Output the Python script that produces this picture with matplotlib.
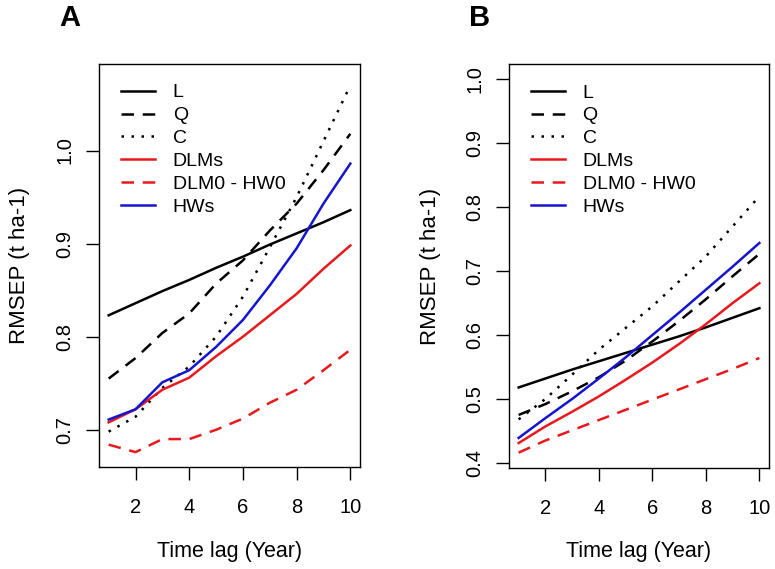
import matplotlib
matplotlib.use("Agg")
import matplotlib.pyplot as plt
import numpy as np

plt.rcParams["font.family"] = ["Liberation Sans", "DejaVu Sans"]

# time lag (years)
lags = np.arange(1, 11)

# panel A: RMSEP (t ha-1)
a_L = [0.823, 0.836, 0.849, 0.861, 0.874, 0.886, 0.899, 0.911, 0.923, 0.936]
a_Q = [0.755, 0.777, 0.804, 0.825, 0.857, 0.882, 0.914, 0.943, 0.979, 1.018]
a_C = [0.698, 0.714, 0.745, 0.768, 0.800, 0.843, 0.896, 0.950, 1.010, 1.070]
a_DLM = [0.708, 0.722, 0.743, 0.756, 0.779, 0.800, 0.823, 0.846, 0.873, 0.898]
a_DLM0 = [0.684, 0.676, 0.690, 0.690, 0.700, 0.712, 0.729, 0.743, 0.764, 0.786]
a_HW = [0.711, 0.722, 0.751, 0.764, 0.789, 0.818, 0.855, 0.895, 0.943, 0.986]

# panel B: RMSEP (t ha-1)
b_L = [0.518, 0.532, 0.546, 0.559, 0.572, 0.585, 0.598, 0.612, 0.627, 0.642]
b_Q = [0.475, 0.492, 0.512, 0.534, 0.560, 0.590, 0.622, 0.656, 0.692, 0.727]
b_C = [0.468, 0.500, 0.538, 0.577, 0.611, 0.645, 0.684, 0.723, 0.770, 0.817]
b_DLM = [0.431, 0.457, 0.480, 0.504, 0.530, 0.557, 0.586, 0.617, 0.650, 0.681]
b_DLM0 = [0.416, 0.435, 0.451, 0.467, 0.483, 0.499, 0.515, 0.531, 0.547, 0.564]
b_HW = [0.439, 0.470, 0.500, 0.532, 0.565, 0.600, 0.635, 0.671, 0.707, 0.744]

labels = ["L", "Q", "C", "DLMs", "DLM0 - HW0", "HWs"]
colors = ["black", "black", "black", "#e8191c", "#e8191c", "#1515d0"]
dashed = (0, (5, 3.5))
dotted = (0, (1, 3))
styles = ["-", dashed, dotted, "-", dashed, "-"]

W, H = 775, 569
fig = plt.figure(figsize=(W / 100, H / 100), dpi=100)


def rect(l, r, t, b):
    return [l / W, 1 - b / H, (r - l) / W, (b - t) / H]


def panel(ax, series, ylim, yticks, letter, letter_x, height):
    for y, lab, c, ls in zip(series, labels, colors, styles):
        ax.plot(lags, y, color=c, ls=ls, lw=1.8, label=lab)
    ax.set_xlim(0.64, 10.36)
    ax.set_ylim(*ylim)
    ax.set_xticks([2, 4, 6, 8, 10])
    ax.set_yticks(yticks)
    ax.set_yticklabels([f"{v:.1f}" for v in yticks], rotation=90, va="center")
    ax.tick_params(direction="out", length=9.5, width=1, labelsize=14.5)
    ax.tick_params(axis="x", pad=13)
    ax.tick_params(axis="y", pad=8)
    for s in ax.spines.values():
        s.set_linewidth(1)
    ax.set_xlabel("Time lag (Year)", fontsize=15.5, va="center")
    ax.set_ylabel("RMSEP (t ha-1)", fontsize=16, va="center")
    ax.xaxis.set_label_coords(0.5, -84 / height)
    ax.yaxis.set_label_coords(-79 / 261, 0.5)
    ax.legend(loc="upper left", frameon=False, fontsize=14,
              handlelength=1.75, handletextpad=0.9, labelspacing=0.27,
              borderaxespad=0.0, bbox_to_anchor=(0.055, 0.97))
    fig.text(letter_x / W, 1 - 18 / H, letter, fontsize=21, fontweight="bold",
             ha="center", va="center")


ax1 = fig.add_axes(rect(99, 360, 64, 467))
panel(ax1, [a_L, a_Q, a_C, a_DLM, a_DLM0, a_HW], (0.660, 1.093),
      [0.7, 0.8, 0.9, 1.0], "A", 70, 403)

ax2 = fig.add_axes(rect(509, 769, 64, 468))
panel(ax2, [b_L, b_Q, b_C, b_DLM, b_DLM0, b_HW], (0.392, 1.024),
      [0.4, 0.5, 0.6, 0.7, 0.8, 0.9, 1.0], "B", 480, 404)

fig.savefig("out.png", dpi=100)
